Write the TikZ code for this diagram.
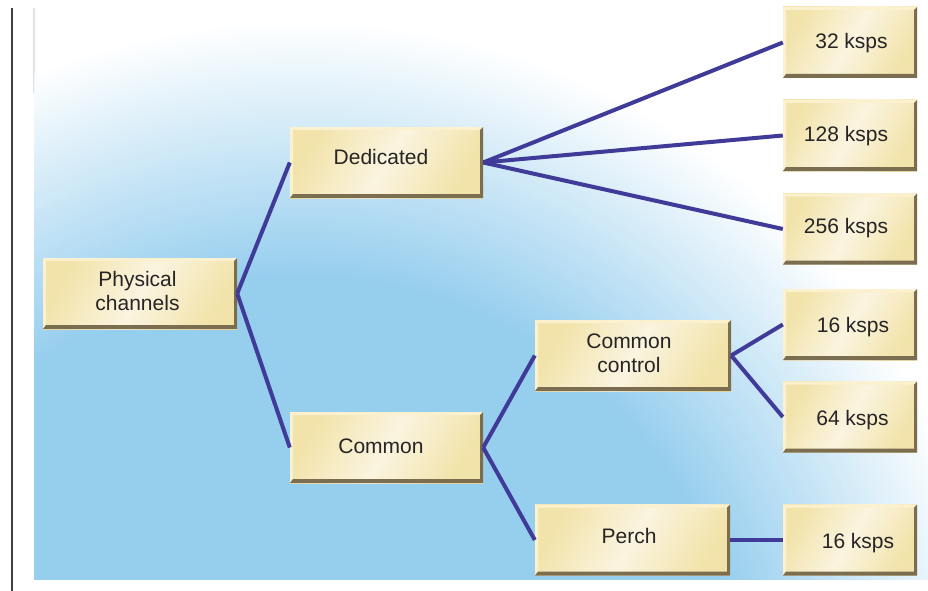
\documentclass[tikz,border=0pt]{standalone}
\usepackage{fontspec}
\setmainfont{Liberation Sans}

\definecolor{skyb}{HTML}{96CEEE}
\definecolor{linkc}{HTML}{403A98}
\definecolor{boxyel}{HTML}{F2E3AA}
\definecolor{boxlite}{HTML}{FAF4E0}
\definecolor{bevdark}{HTML}{7B6D4F}
\definecolor{bevlite}{HTML}{FBF1CE}
\definecolor{inkc}{HTML}{262424}
\definecolor{frame}{HTML}{404040}
\definecolor{edgegray}{HTML}{E2E2E2}

% two stacked lines of a label
\newcommand\twolines[2]{\begin{tabular}{@{}c@{}}#1\\#2\end{tabular}}

\tikzset{
  chan/.style={
    rectangle, inner sep=0pt, minimum height=71pt,
    left color=boxyel, right color=boxyel, middle color=boxlite,
    shading angle=60,
    text=inkc,
    font=\fontsize{21}{24}\selectfont,
    path picture={
      % light top and left bevel
      \fill[bevlite]
        (path picture bounding box.south west) --
        (path picture bounding box.north west) --
        (path picture bounding box.north east) --
        ([xshift=-3pt,yshift=-3pt]path picture bounding box.north east) --
        ([xshift=3pt,yshift=-3pt]path picture bounding box.north west) --
        ([xshift=3pt,yshift=4pt]path picture bounding box.south west) -- cycle;
      % dark bottom and right bevel
      \fill[bevdark]
        (path picture bounding box.south west) --
        (path picture bounding box.south east) --
        (path picture bounding box.north east) --
        ([xshift=-3pt,yshift=-3pt]path picture bounding box.north east) --
        ([xshift=-3pt,yshift=4pt]path picture bounding box.south east) --
        ([xshift=3pt,yshift=4pt]path picture bounding box.south west) -- cycle;
    }
  },
  wide/.style={chan, minimum width=194pt},
  rate/.style={chan, minimum width=134pt},
  dp/.style={text height=15.3pt, text depth=#1},
  up/.style={text height=#1, text depth=0pt},
  link/.style={draw=linkc, line width=4pt},
}

\begin{document}
\begin{tikzpicture}[x=1pt, y=-1pt]
  \useasboundingbox (0,0) rectangle (928,591);

  % page rules
  \draw[frame, line width=2pt] (12,8) -- (12,591);
  \draw[edgegray, line width=1.5pt] (34,8) -- (34,93);

  % backdrop panel: blue core that fades to white towards the top right
  \begin{scope}
    \clip (34.5,8) rectangle (928,579);
    \foreach \k in {0,...,63} {
      \pgfmathsetmacro\rr{700-\k*255/63}
      \pgfmathsetmacro\pp{\k*100/63}
      \fill[skyb!\pp!white] (300,720) circle[radius=\rr pt];
    }
  \end{scope}

  % channel tree
  \node[wide] (phys) at (140,293.5) {\twolines{Physical}{channels}\hspace*{5pt}};
  \node[wide, minimum width=193pt, dp=12.3pt] (ded) at (386.5,162.5) {Dedicated\hspace*{11pt}};
  \node[wide, minimum width=193pt, dp=4.3pt] (com) at (386.5,447.5) {Common\hspace*{11pt}};
  \node[wide, minimum width=196pt] (cc) at (633,355.5) {\twolines{Common}{control}\hspace*{8pt}};
  \node[wide, minimum width=195pt, dp=8.3pt] (perch) at (632.5,540) {Perch\hspace*{7pt}};

  \node[rate, dp=3.9pt] (r32)  at (850,42.5)  {\hspace*{3pt}32 ksps};
  \node[rate, dp=2.9pt] (r128) at (850,135.5) {128 ksps\hspace*{8pt}};
  \node[rate, dp=6.3pt] (r256) at (850,229)   {256 ksps\hspace*{8pt}};
  \node[rate, up=16pt]  (r16a) at (850,324.5) {\hspace*{6pt}16 ksps};
  \node[rate, up=16pt]  (r64)  at (850,417)   {\hspace*{5pt}64 ksps};
  \node[rate, up=16.4pt] (r16b) at (850,540)  {\hspace*{16pt}16 ksps};

  % connectors
  \draw[link] (phys.east) -- (ded.west);
  \draw[link] (phys.east) -- (com.west);
  \draw[link] (ded.east) -- (r32.west);
  \draw[link] (ded.east) -- (r128.west);
  \draw[link] (ded.east) -- (r256.west);
  \draw[link] (com.east) -- (cc.west);
  \draw[link] (com.east) -- (perch.west);
  \draw[link] (cc.east) -- (r16a.west);
  \draw[link] (cc.east) -- (r64.west);
  \draw[link] (perch.east) -- (r16b.west);
\end{tikzpicture}
\end{document}
